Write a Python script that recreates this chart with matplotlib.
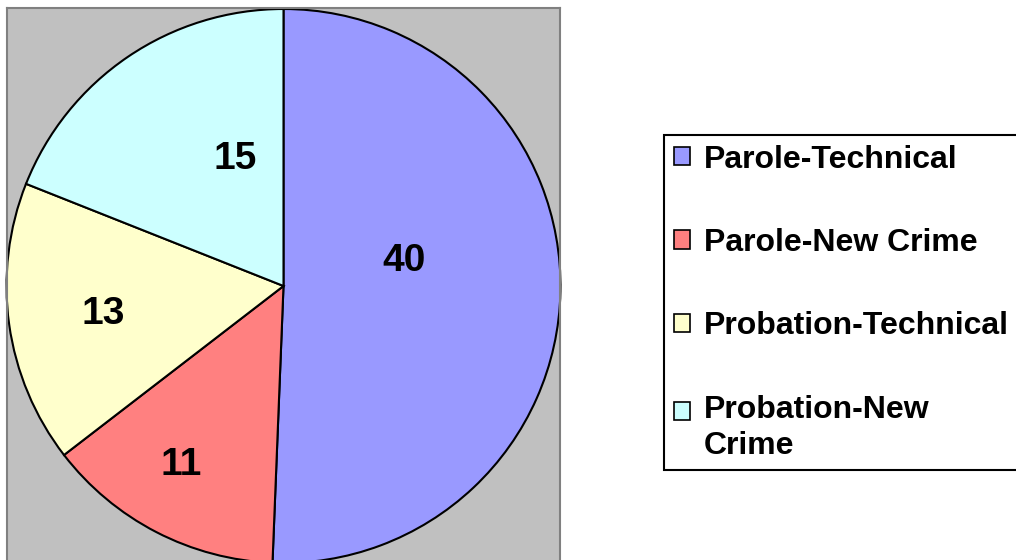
import numpy as np
import matplotlib
matplotlib.use("Agg")
import matplotlib.pyplot as plt
from matplotlib.transforms import offset_copy

categories = ["Parole-Technical", "Parole-New Crime", "Probation-Technical", "Probation-New\nCrime"]
values = [40, 11, 13, 15]
colors = ["#9999FF", "#FF8080", "#FFFFCC", "#CCFFFF"]

# where excel put the numbers inside each slice (radius fraction, angle shift in deg)
label_r = [0.447, 0.735, 0.657, 0.50]
label_shift = [14.2, -2.7, 0.0, -13.9]

plt.rcParams['font.family'] = ['Liberation Sans', 'DejaVu Sans']
plt.rcParams['font.weight'] = 'bold'

W, H = 1016, 560
fig = plt.figure(figsize=(W / 100, H / 100), dpi=100)

# plot area in pixels (left, top, right, bottom)
px_l, px_t, px_r, px_b = 7, 8, 560, 564
ax = fig.add_axes([px_l / W, 1 - px_b / H, (px_r - px_l) / W, (px_b - px_t) / H])
ax.set_facecolor("#C0C0C0")

wedges, _ = ax.pie(values, colors=colors, startangle=90, counterclock=False, radius=1.0,
                   frame=True, wedgeprops=dict(edgecolor="black", linewidth=1.5))
ax.set_aspect("auto")
rad_px = 277.0
ax.set_xlim(-(px_r - px_l) / 2 / rad_px, (px_r - px_l) / 2 / rad_px)
ax.set_ylim(-(px_b - px_t) / 2 / rad_px, (px_b - px_t) / 2 / rad_px)
ax.set_xticks([])
ax.set_yticks([])
for s in ax.spines.values():
    s.set_color("#808080")
    s.set_linewidth(1.5)

# digits sit a bit high with va=center, nudge them down
num_tr = offset_copy(ax.transData, fig=fig, x=0, y=-3, units="dots")
for w, v, r, sh in zip(wedges, values, label_r, label_shift):
    mid = np.deg2rad((w.theta1 + w.theta2) / 2 + sh)
    ax.text(r * np.cos(mid), r * np.sin(mid), str(v), ha="center", va="center",
            fontsize=28, fontweight="bold", color="black", transform=num_tr)

leg = fig.legend(wedges, categories, loc="upper left",
                 bbox_to_anchor=(664 / W, 1 - 135 / H), borderaxespad=0,
                 prop=dict(size=23, weight="bold"), fancybox=False, shadow=False,
                 frameon=True, edgecolor="black", framealpha=1,
                 handlelength=0.51, handleheight=0.51, handletextpad=0.43,
                 labelspacing=1.67, borderpad=0.3)
leg.get_frame().set_linewidth(1.5)
for t in leg.get_texts():
    t.set_linespacing(1.27)
for h in leg.legend_handles:
    h.set_linewidth(1.2)
# excel keeps the box of a wrapped entry next to its first line
last = leg.legend_handles[-1]
last.set_y(last.get_y() + 12)

fig.savefig("out.png", dpi=100)
